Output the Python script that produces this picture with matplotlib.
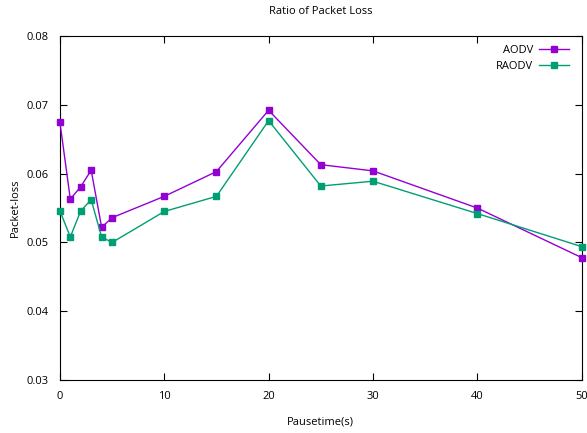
import matplotlib
matplotlib.use('Agg')
import matplotlib.pyplot as plt

plt.rcParams['font.family'] = ['Open Sans', 'DejaVu Sans']

pausetime = [0, 1, 2, 3, 4, 5, 10, 15, 20, 25, 30, 40, 50]
aodv = [0.0675, 0.0563, 0.0581, 0.0605, 0.0522, 0.0536, 0.0567,
        0.0603, 0.0692, 0.0613, 0.0604, 0.0550, 0.0478]
raodv = [0.0546, 0.0508, 0.0546, 0.0562, 0.0508, 0.0500, 0.0545,
         0.0567, 0.0677, 0.0582, 0.0589, 0.0542, 0.0494]

fig = plt.figure(figsize=(5.87, 4.33), dpi=100)
ax = fig.add_axes([0.102, 0.122, 0.889, 0.795])

ax.plot(pausetime, aodv, color='#9400d3', lw=1, marker='s', ms=5,
        label='AODV', clip_on=False, zorder=3)
ax.plot(pausetime, raodv, color='#009e73', lw=1, marker='s', ms=5,
        label='RAODV', clip_on=False, zorder=3)

ax.set_xlim(0, 50)
ax.set_ylim(0.03, 0.08)
ax.set_xticks([0, 10, 20, 30, 40, 50])
ax.set_yticks([0.03, 0.04, 0.05, 0.06, 0.07, 0.08])
ax.set_yticklabels(['0.03', '0.04', '0.05', '0.06', '0.07', '0.08'])
ax.tick_params(direction='in', top=True, right=True, labelsize=8, length=5, pad=8)

ax.set_title('Ratio of Packet Loss', fontsize=8, pad=16)
ax.set_xlabel('Pausetime(s)', fontsize=8, labelpad=10)
ax.set_ylabel('Packet-loss', fontsize=8, labelpad=4)

ax.legend(loc='upper right', bbox_to_anchor=(0.992, 1.0), markerfirst=False,
          frameon=False, fontsize=8, handlelength=2.7, handletextpad=0.5,
          borderaxespad=0.4)

fig.savefig('out.png', dpi=100)
